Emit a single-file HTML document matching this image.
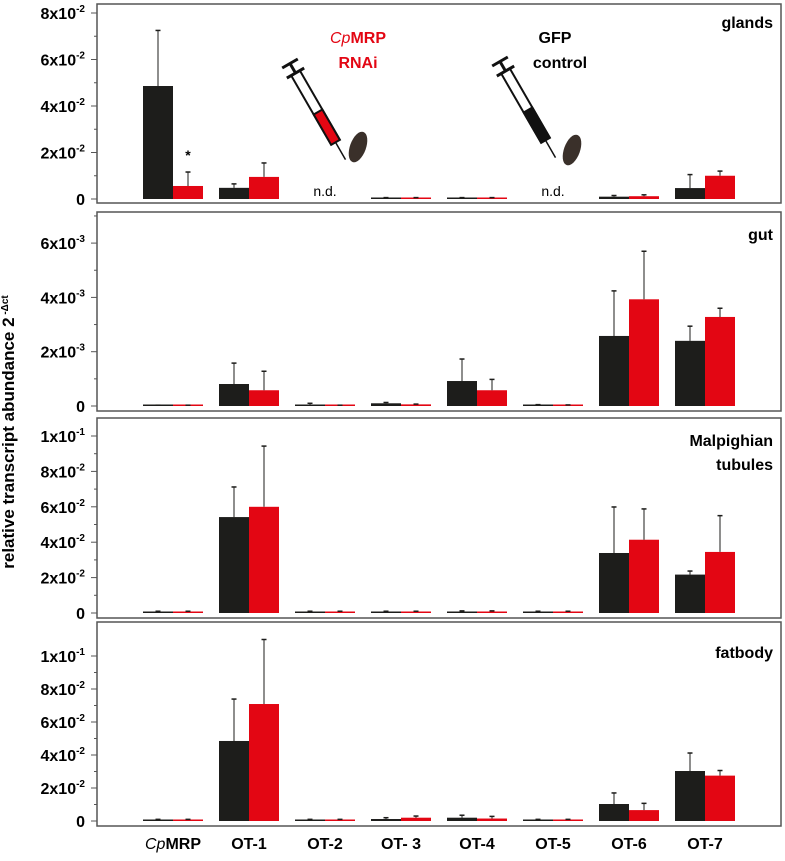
<!DOCTYPE html>
<html><head><meta charset="utf-8"><style>
body{margin:0;background:#fff}
svg{display:block}
text{font-family:"Liberation Sans Narrow","Liberation Sans",sans-serif;font-weight:bold}
</style></head><body>
<svg id="chart" width="785" height="861" viewBox="0 0 785 861" xmlns="http://www.w3.org/2000/svg">
<text transform="translate(14,432) rotate(-90)" text-anchor="middle" font-size="17" style="font-family:'Liberation Sans',sans-serif">relative transcript abundance 2<tspan dy="-6" font-size="10"> -Δct</tspan></text>
<g>
<g transform="translate(318,112) rotate(-30)">
<rect x="-5" y="-45" width="10" height="80" fill="#fff" stroke="#111" stroke-width="2"/>
<rect x="-5" y="0" width="10" height="35" fill="#e30613" stroke="#111" stroke-width="2"/>
<line x1="-10" y1="-45" x2="10" y2="-45" stroke="#111" stroke-width="3"/>
<line x1="0" y1="-45" x2="0" y2="-55" stroke="#111" stroke-width="3"/>
<line x1="-9" y1="-56" x2="9" y2="-56" stroke="#111" stroke-width="3"/>
<line x1="0" y1="35" x2="0" y2="55" stroke="#111" stroke-width="1.5"/>
</g>
<ellipse cx="358" cy="147" rx="8" ry="16" fill="#3a302a" transform="rotate(20 358 147)"/>
<text x="358" y="43" text-anchor="middle" font-size="16" fill="#e30613"><tspan font-style="italic" font-weight="normal">Cp</tspan>MRP</text>
<text x="358" y="68" text-anchor="middle" font-size="16" fill="#e30613">RNAi</text>
</g>
<g>
<g transform="translate(528,110) rotate(-30)">
<rect x="-5" y="-45" width="10" height="80" fill="#fff" stroke="#111" stroke-width="2"/>
<rect x="-5" y="0" width="10" height="35" fill="#111" stroke="#111" stroke-width="2"/>
<line x1="-10" y1="-45" x2="10" y2="-45" stroke="#111" stroke-width="3"/>
<line x1="0" y1="-45" x2="0" y2="-55" stroke="#111" stroke-width="3"/>
<line x1="-9" y1="-56" x2="9" y2="-56" stroke="#111" stroke-width="3"/>
<line x1="0" y1="35" x2="0" y2="55" stroke="#111" stroke-width="1.5"/>
</g>
<ellipse cx="572" cy="150" rx="8" ry="16" fill="#3a302a" transform="rotate(20 572 150)"/>
<text x="555" y="43" text-anchor="middle" font-size="16">GFP</text>
<text x="560" y="68" text-anchor="middle" font-size="16">control</text>
</g>
</svg>
<script>
const categories=["CpMRP","OT-1","OT-2","OT-3","OT-4","OT-5","OT-6","OT-7"];
const panelNames=["glands","gut","Malpighian tubules","fatbody"];
const glandsGFP=[4.86,0.48,null,0.05,0.05,null,0.1,0.47];
const glandsGFPErr=[7.25,0.65,null,0.06,0.06,null,0.15,1.05];
const glandsRNAi=[0.56,0.95,null,0.05,0.05,null,0.12,1.0];
const glandsRNAiErr=[1.16,1.55,null,0.06,0.06,null,0.18,1.2];
const gutGFP=[0.02,0.81,0.02,0.1,0.92,0.04,2.58,2.4];
const gutGFPErr=[0.03,1.58,0.1,0.13,1.73,0.05,4.24,2.94];
const gutRNAi=[0.02,0.58,0.02,0.06,0.58,0.03,3.93,3.28];
const gutRNAiErr=[0.03,1.28,0.03,0.07,0.98,0.04,5.7,3.6];
const malGFP=[0.05,5.42,0.05,0.05,0.08,0.05,3.39,2.17];
const malGFPErr=[0.1,7.12,0.1,0.1,0.12,0.1,5.99,2.37];
const malRNAi=[0.05,6.0,0.05,0.05,0.08,0.05,4.14,3.45];
const malRNAiErr=[0.1,9.43,0.1,0.1,0.12,0.1,5.88,5.5];
const fatGFP=[0.05,4.85,0.05,0.12,0.2,0.05,1.03,3.03];
const fatGFPErr=[0.1,7.39,0.1,0.2,0.35,0.1,1.7,4.12];
const fatRNAi=[0.05,7.09,0.05,0.2,0.15,0.05,0.66,2.75];
const fatRNAiErr=[0.1,11.0,0.1,0.3,0.28,0.1,1.07,3.06];
const glandsTicks=["0","2x10-2","4x10-2","6x10-2","8x10-2"];
const gutTicks=["0","2x10-3","4x10-3","6x10-3"];
const malTicks=["0","2x10-2","4x10-2","6x10-2","8x10-2","1x10-1"];
const fatTicks=["0","2x10-2","4x10-2","6x10-2","8x10-2","1x10-1"];

const NS="http://www.w3.org/2000/svg";
const svg=document.getElementById('chart');
function mk(tag,attrs,parent){const e=document.createElementNS(NS,tag);for(const k in attrs)e.setAttribute(k,attrs[k]);(parent||svg).appendChild(e);return e;}
const X0=97,X1=781;
function xCenter(i){return 173+i*76;}
const panels=[
 {top:4,bottom:203,zero:199,ppu:23.25,step:2,ticks:glandsTicks,g:glandsGFP,ge:glandsGFPErr,r:glandsRNAi,re:glandsRNAiErr,label:["glands"],ly:22},
 {top:212,bottom:411,zero:406,ppu:27.15,step:2,ticks:gutTicks,g:gutGFP,ge:gutGFPErr,r:gutRNAi,re:gutRNAiErr,label:["gut"],ly:234},
 {top:418,bottom:618,zero:613,ppu:17.7,step:2,ticks:malTicks,g:malGFP,ge:malGFPErr,r:malRNAi,re:malRNAiErr,label:["Malpighian","tubules"],ly:440},
 {top:622,bottom:826,zero:821,ppu:16.5,step:2,ticks:fatTicks,g:fatGFP,ge:fatGFPErr,r:fatRNAi,re:fatRNAiErr,label:["fatbody"],ly:652}
];
panels.forEach((p,pi)=>{
 const g=mk('g',{});
 
 
 const y=v=>p.zero-v*p.ppu;
 const fr=mk('rect',{x:X0,y:p.top,width:X1-X0,height:p.bottom-p.top,fill:'none',stroke:'#555','stroke-width':1.5},g);
 
 
 p.ticks.forEach((t,ti)=>{
  const v=ti*p.step, ty=y(v);
  mk('line',{x1:91,x2:X0,y1:ty,y2:ty,stroke:'#555','stroke-width':1},g);
  if(ti<p.ticks.length-1){const my=y(v+p.step/2);mk('line',{x1:94,x2:X0,y1:my,y2:my,stroke:'#555','stroke-width':1},g);}
  const tx=mk('text',{x:85,y:ty+6,'text-anchor':'end','font-size':16},g);
  
  
  const m=t.match(/^(\dx10)(-\d)$/);
  if(m){tx.textContent=m[1];const ts=mk('tspan',{dy:-7,'font-size':10},tx);ts.textContent=m[2];}
  else tx.textContent=t;
 });
 if(p.ticks.length===4){const my=y(7);mk('line',{x1:94,x2:X0,y1:my,y2:my,stroke:'#555'},g);}
 p.label.forEach((l,li)=>{const t=mk('text',{x:773,y:p.ly+li*24+6,'text-anchor':'end','font-size':16},g);t.textContent=l;
  });
 categories.forEach((c,i)=>{
  const cx=xCenter(i);
  if(p.g[i]===null){const t=mk('text',{x:cx,y:p.zero-3,'text-anchor':'middle','font-size':14},g);t.style.fontWeight='normal';t.textContent='n.d.';
   return;}
  [[p.g[i],p.ge[i],cx-30,'#1d1d1b','gfp'],[p.r[i],p.re[i],cx,'#e30613','rnai']].forEach(([v,e,bx,col,s])=>{
   const h=Math.max(v*p.ppu,1.5);
   const b=mk('rect',{x:bx,y:p.zero-h,width:30,height:h,fill:col},g);
   
   
   const ex=bx+15;
   mk('line',{x1:ex,x2:ex,y1:p.zero-h,y2:y(e),stroke:'#1d1d1b','stroke-width':1},g);
   mk('line',{x1:ex-2.5,x2:ex+2.5,y1:y(e),y2:y(e),stroke:'#1d1d1b','stroke-width':1.5},g);
  });
 });
});
const star=mk('text',{x:188,y:160,'text-anchor':'middle','font-size':14});
star.textContent='*';


categories.forEach((c,i)=>{
 const t=mk('text',{x:xCenter(i),y:849,'text-anchor':'middle','font-size':16});
 
 
 if(c==='CpMRP'){const a=mk('tspan',{'font-style':'italic','font-weight':'normal'},t);a.textContent='Cp';const b=mk('tspan',{},t);b.textContent='MRP';}
 else t.textContent=(c==='OT-3'?'OT- 3':c);
});
</script>
</body></html>
